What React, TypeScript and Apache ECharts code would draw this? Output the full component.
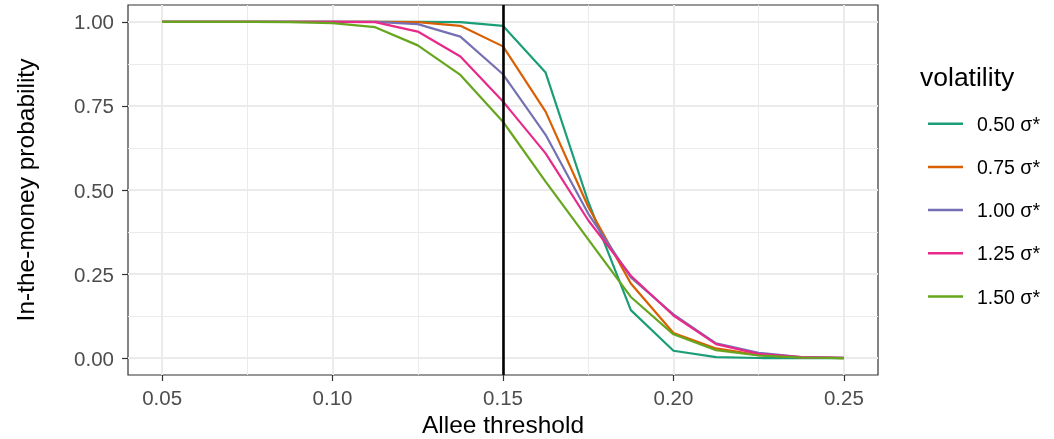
import { useEffect, useRef } from "react";
import * as echarts from "echarts";

const thresholds = [0.05, 0.0625, 0.075, 0.0875, 0.1, 0.1125, 0.125, 0.1375, 0.15, 0.1625, 0.175, 0.1875, 0.2, 0.2125, 0.225, 0.2375, 0.25];
const vol050 = [1, 1, 1, 1, 1, 1, 1, 0.999, 0.988, 0.849, 0.465, 0.143, 0.022, 0.003, 0.0005, 0, 0];
const vol075 = [1, 1, 1, 1, 1, 1, 0.999, 0.988, 0.927, 0.733, 0.45, 0.222, 0.075, 0.029, 0.009, 0.002, 0];
const vol100 = [1, 1, 1, 1, 1, 1, 0.993, 0.956, 0.844, 0.664, 0.43, 0.24, 0.13, 0.044, 0.016, 0.003, 0.001];
const vol125 = [1, 1, 1, 1, 1, 0.999, 0.971, 0.897, 0.763, 0.609, 0.41, 0.245, 0.127, 0.042, 0.013, 0.003, 0.001];
const vol150 = [1, 1, 1, 0.999, 0.996, 0.984, 0.93, 0.842, 0.703, 0.525, 0.353, 0.182, 0.071, 0.024, 0.008, 0.002, 0];

const seriesNames = ["0.50 σ*", "0.75 σ*", "1.00 σ*", "1.25 σ*", "1.50 σ*"];
const seriesValues = [vol050, vol075, vol100, vol125, vol150];
const seriesColors = ["#1B9E77", "#D95F02", "#7570B3", "#E7298A", "#66A61E"];

const xTicks = [0.05, 0.1, 0.15, 0.2, 0.25];
const xMinorTicks = [0.075, 0.125, 0.175, 0.225];
const yTicks = [0, 0.25, 0.5, 0.75, 1];
const yMinorTicks = [0.125, 0.375, 0.625, 0.875];
const referenceThreshold = 0.15;

const xTitle = "Allee threshold";
const yTitle = "In-the-money probability";
const legendTitle = "volatility";

const FONT = "'Liberation Sans', Arial, Helvetica, sans-serif";

export default function App() {
  const ref = useRef<HTMLDivElement>(null);
  useEffect(() => {
    if (!ref.current) return;
    const chart = echarts.init(ref.current, null, { renderer: "svg" });
    const gridLeft = 128, gridTop = 5, gridW = 750, gridH = 370;
    const majorLine = { show: true, lineStyle: { color: "#EBEBEB", width: 2 } };
    const minorLine = { show: true, lineStyle: { color: "#EBEBEB", width: 1 } };
    const series: any[] = seriesValues.map((vals, i) => ({
      type: "line",
      name: seriesNames[i],
      data: thresholds.map((t, j) => [t, vals[j]]),
      showSymbol: false,
      symbol: "none",
      lineStyle: { color: seriesColors[i], width: 2.2 },
      itemStyle: { color: seriesColors[i] },
      emphasis: { disabled: true },
      silent: true,
      z: 2,
    }));
    series[0].markLine = {
      silent: true,
      symbol: "none",
      label: { show: false },
      lineStyle: { color: "#000000", width: 2.6, type: "solid" },
      emphasis: { disabled: true },
      data: [{ xAxis: referenceThreshold }],
      z: 5,
    };
    chart.setOption({
      animation: false,
      textStyle: { fontFamily: FONT },
      grid: {
        left: gridLeft, top: gridTop, width: gridW, height: gridH,
        show: true, borderColor: "#333333", borderWidth: 1.2, backgroundColor: "#FFFFFF",
      },
      title: {
        text: legendTitle, left: 920, top: 63, padding: 0,
        textStyle: { fontFamily: FONT, fontSize: 26.5, fontWeight: "normal", color: "#000000" },
      },
      legend: {
        orient: "vertical", left: 923, top: 108.7,
        itemWidth: 35, itemHeight: 2.5, itemGap: 23.2,
        icon: "rect",
        selectedMode: false,
        textStyle: { fontFamily: FONT, fontSize: 19.5, color: "#000000", lineHeight: 20, padding: [0, 0, 0, 9] },
        data: seriesNames,
      },
      xAxis: [
        {
          type: "value", min: 0.04, max: 0.26,
          axisLine: { show: false, onZero: false },
          axisTick: { show: true, customValues: xTicks, length: 6, lineStyle: { color: "#333333", width: 1.2 } },
          axisLabel: { customValues: xTicks, formatter: (v: number) => v.toFixed(2), color: "#4D4D4D", fontSize: 20.5, fontFamily: FONT, margin: 12 },
          splitLine: majorLine,
        },
        {
          type: "value", min: 0.04, max: 0.26, position: "top",
          axisLine: { show: false, onZero: false },
          axisTick: { show: false, customValues: xMinorTicks },
          axisLabel: { show: false, customValues: xMinorTicks },
          splitLine: minorLine,
        },
      ],
      yAxis: [
        {
          type: "value", min: -0.05, max: 1.05,
          axisLine: { show: false, onZero: false },
          axisTick: { show: true, customValues: yTicks, length: 6, lineStyle: { color: "#333333", width: 1.2 } },
          axisLabel: { customValues: yTicks, formatter: (v: number) => v.toFixed(2), color: "#4D4D4D", fontSize: 20.5, fontFamily: FONT, margin: 14 },
          splitLine: majorLine,
        },
        {
          type: "value", min: -0.05, max: 1.05, position: "right",
          axisLine: { show: false, onZero: false },
          axisTick: { show: false, customValues: yMinorTicks },
          axisLabel: { show: false, customValues: yMinorTicks },
          splitLine: minorLine,
        },
      ],
      graphic: [
        {
          type: "text", x: gridLeft + gridW / 2, y: 424,
          style: { text: xTitle, fontFamily: FONT, fontSize: 24.5, fill: "#000000", align: "center", verticalAlign: "middle" },
        },
        {
          type: "text", x: 25, y: gridTop + gridH / 2, rotation: Math.PI / 2,
          style: { text: yTitle, fontFamily: FONT, fontSize: 24.5, fill: "#000000", align: "center", verticalAlign: "middle" },
        },
      ],
      series,
    });
    return () => chart.dispose();
  }, []);
  return <div ref={ref} style={{ position: "fixed", left: 0, top: 0, width: 1054, height: 439 }} />;
}
